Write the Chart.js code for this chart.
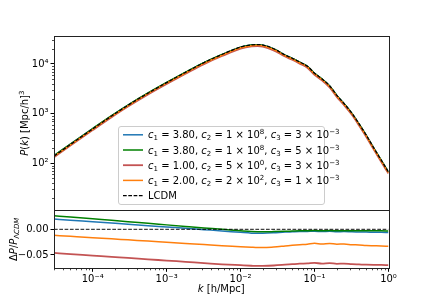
<!DOCTYPE html>
<html>
<head>
<meta charset="utf-8">
<script src="https://cdn.jsdelivr.net/npm/chart.js@4.4.1/dist/chart.umd.min.js"></script>
<style>
  html, body { margin: 0; padding: 0; background: #fff; }
  #wrap { width: 432px; height: 302px; }
</style>
</head>
<body>
<div id="wrap"><canvas id="pkChart"></canvas></div>
<script>
// wavenumbers k [h/Mpc]
const kValues = [3e-5, 5e-5, 1e-4, 1.8e-4, 3e-4, 5.6e-4, 1e-3, 1.8e-3, 3.2e-3, 5.6e-3,
  0.01, 0.014, 0.017, 0.02, 0.028, 0.04, 0.05, 0.063, 0.08, 0.1,
  0.126, 0.16, 0.2, 0.25, 0.32, 0.4, 0.5, 0.63, 0.8, 1.0];

// LCDM power spectrum P(k) [Mpc/h]^3
const pLcdm = [140, 240, 493, 897, 1472, 2582, 4207, 6776, 10620, 15490,
  21880, 24210, 24550, 23990, 20230, 15140, 13000, 10900, 9000, 6500,
  5010, 3610, 2340, 1600, 1020, 622, 369, 206, 115, 67];

// relative difference dP/P_LCDM of each model
const ratioBlue = [0.020, 0.0177, 0.0147, 0.0121, 0.0098, 0.0071, 0.0045, 0.0019, -0.0007, -0.0032,
  -0.006, -0.0075, -0.0078, -0.0077, -0.0068, -0.0055, -0.005, -0.0045, -0.0042, -0.0038,
  -0.0045, -0.004, -0.0048, -0.0045, -0.005, -0.0052, -0.0055, -0.0057, -0.006, -0.0063];
const ratioGreen = [0.0265, 0.0239, 0.0203, 0.0174, 0.0147, 0.0116, 0.0086, 0.0056, 0.0027, 0.0,
  -0.003, -0.0045, -0.0048, -0.0048, -0.0045, -0.004, -0.0035, -0.003, -0.0027, -0.0025,
  -0.003, -0.0025, -0.003, -0.0028, -0.003, -0.0028, -0.003, -0.003, -0.003, -0.0033];
const ratioRed = [-0.0461, -0.0483, -0.0512, -0.0537, -0.0558, -0.0585, -0.0609, -0.0634, -0.0658, -0.0682,
  -0.070, -0.071, -0.0714, -0.0713, -0.0705, -0.069, -0.068, -0.067, -0.0665, -0.0655,
  -0.0668, -0.066, -0.0672, -0.0668, -0.068, -0.0685, -0.069, -0.0693, -0.0695, -0.0697];
const ratioOrange = [-0.0117, -0.0137, -0.0164, -0.0186, -0.0206, -0.023, -0.0253, -0.0276, -0.0298, -0.032,
  -0.0338, -0.035, -0.0356, -0.0357, -0.0345, -0.0325, -0.0312, -0.030, -0.029, -0.0272,
  -0.0288, -0.0278, -0.029, -0.0288, -0.030, -0.0305, -0.0315, -0.032, -0.0325, -0.0331];
const ratioLcdm = kValues.map(() => 0);

// legend parameters
const legendC1 = ['3.80', '3.80', '1.00', '2.00'];
const legendC2 = [['1', '8'], ['1', '8'], ['5', '0'], ['2', '2']];
const legendC3 = [['3', '−3'], ['5', '−3'], ['3', '−3'], ['1', '−3']];

// ticks
const xTickValues = [1e-4, 1e-3, 1e-2, 1e-1, 1];
const xTickLabels = ['10⁻⁴', '10⁻³', '10⁻²', '10⁻¹', '10⁰'];
const pTickValues = [100, 1000, 10000];
const pTickLabels = ['10²', '10³', '10⁴'];
const rTickValues = [-0.05, 0];
const rTickLabels = ['−0.05', '0.00'];

const FONT = 'DejaVu Sans';
const colors = ['#1f77b4', '#008000', 'rgba(178,34,34,0.78)', '#ff7f0e'];
const widths = [1.5, 1.5, 1.8, 1.5];
const ratios = [ratioBlue, ratioGreen, ratioRed, ratioOrange];

const pts = (arr) => kValues.map((k, i) => ({ x: k, y: arr[i] }));
const model = (r) => pLcdm.map((p, i) => p * (1 + r[i]));

const datasets = [];
ratios.forEach((r, i) => {
    datasets.push({ data: pts(model(r)), yAxisID: 'yp', borderColor: colors[i], borderWidth: widths[i], order: 20 - i });
});
datasets.push({ data: pts(pLcdm), yAxisID: 'yp', borderColor: '#000', borderWidth: 1.3, borderDash: [3.7, 1.6], order: 10 });
ratios.forEach((r, i) => {
    datasets.push({ data: pts(r), yAxisID: 'yr', borderColor: colors[i], borderWidth: widths[i], order: 9 - i });
});
datasets.push({ data: pts(ratioLcdm), yAxisID: 'yr', borderColor: 'rgba(0,0,0,0.75)', borderWidth: 1.3, borderDash: [3.7, 1.6], order: 0 });

function drawRich(ctx, parts, x, y, align) {
    let w = 0;
    parts.forEach(p => { ctx.font = p[1]; w += ctx.measureText(p[0]).width; });
    let cx = align === 'center' ? x - w / 2 : x;
    parts.forEach(p => {
        ctx.font = p[1];
        ctx.fillText(p[0], cx, y + (p[2] || 0));
        cx += ctx.measureText(p[0]).width;
    });
}

const decor = {
    id: 'decor',
    afterDraw(chart) {
        const ctx = chart.ctx;
        const a = chart.chartArea;
        const xs = chart.scales.x, yp = chart.scales.yp, yr = chart.scales.yr;
        ctx.save();

        // minor ticks on log axes
        ctx.strokeStyle = '#000';
        ctx.lineWidth = 0.7;
        ctx.beginPath();
        for (let d = 1e-5; d < 1; d *= 10) {
            for (let m = 2; m <= 9; m++) {
                const v = d * m;
                if (v < xs.min || v > xs.max) continue;
                const px = Math.round(xs.getPixelForValue(v)) + 0.5;
                ctx.moveTo(px, a.bottom); ctx.lineTo(px, a.bottom + 2);
            }
        }
        for (let d = 10; d < 1e5; d *= 10) {
            for (let m = 2; m <= 9; m++) {
                const v = d * m;
                if (v < yp.min || v > yp.max) continue;
                const py = Math.round(yp.getPixelForValue(v)) + 0.5;
                ctx.moveTo(a.left, py); ctx.lineTo(a.left - 2, py);
            }
        }
        ctx.stroke();

        // panel frames
        ctx.strokeStyle = '#222';
        ctx.lineWidth = 1;
        ctx.strokeRect(Math.round(a.left) + 0.5, Math.round(yp.top) + 0.5, Math.round(a.right - a.left), Math.round(yp.bottom - yp.top));
        ctx.strokeRect(Math.round(a.left) + 0.5, Math.round(yr.top) + 0.5, Math.round(a.right - a.left), Math.round(yr.bottom - yr.top));

        // axis titles
        ctx.fillStyle = '#000';
        ctx.textBaseline = 'alphabetic';
        const N = '10px ' + FONT, I = 'italic 10px ' + FONT, S = '7px ' + FONT, SI = 'italic 7px ' + FONT;
        drawRich(ctx, [['k', I], [' [h/Mpc]', N]], (a.left + a.right) / 2, 292, 'center');

        ctx.save();
        ctx.translate(28, (yp.top + yp.bottom) / 2);
        ctx.rotate(-Math.PI / 2);
        drawRich(ctx, [['P', I], ['(', N], ['k', I], [')', N], [' [Mpc/h]', N], ['3', S, -4]], 0, 0, 'center');
        ctx.restore();

        ctx.save();
        ctx.translate(17, (yr.top + yr.bottom) / 2);
        ctx.rotate(-Math.PI / 2);
        drawRich(ctx, [['Δ', N], ['P', I], ['/', N], ['P', I], ['Λ', S, 2], ['CDM', SI, 2]], 0, 0, 'center');
        ctx.restore();

        // legend
        const lx = 118.5, ly = 126.5, lw = 206, lh = 78;
        ctx.beginPath();
        ctx.roundRect(lx, ly, lw, lh, 2.5);
        ctx.fillStyle = 'rgba(255,255,255,0.8)';
        ctx.fill();
        ctx.strokeStyle = '#cccccc';
        ctx.lineWidth = 1;
        ctx.stroke();
        for (let i = 0; i < 5; i++) {
            const ry = 134.8 + i * 15.2;
            ctx.beginPath();
            ctx.moveTo(123, ry); ctx.lineTo(143, ry);
            if (i < 4) {
                ctx.strokeStyle = colors[i]; ctx.lineWidth = widths[i]; ctx.setLineDash([]);
            } else {
                ctx.strokeStyle = '#000'; ctx.lineWidth = 1.3; ctx.setLineDash([3.7, 1.6]);
            }
            ctx.stroke();
            ctx.setLineDash([]);
            ctx.fillStyle = '#000';
            if (i < 4) {
                drawRich(ctx, [
                    ['c', I], ['1', S, 2], [' = ' + legendC1[i] + ', ', N],
                    ['c', I], ['2', S, 2], [' = ' + legendC2[i][0] + ' × 10', N], [legendC2[i][1], S, -4], [', ', N],
                    ['c', I], ['3', S, 2], [' = ' + legendC3[i][0] + ' × 10', N], [legendC3[i][1], S, -4]
                ], 148, ry + 3.5);
            } else {
                drawRich(ctx, [['LCDM', N]], 148, ry + 3.5);
            }
        }
        ctx.restore();
    }
};

const tickFont = { family: FONT, size: 10 };
const ctx = document.getElementById('pkChart').getContext('2d');
new Chart(ctx, {
    type: 'line',
    data: { datasets: datasets },
    options: {
        responsive: true,
        maintainAspectRatio: false,
        animation: false,
        layout: { padding: { top: 36, right: 43.5, bottom: 0, left: 0 } },
        elements: {
            point: { radius: 0 },
            line: { cubicInterpolationMode: 'monotone', fill: false, borderJoinStyle: 'round' }
        },
        plugins: { legend: { display: false }, tooltip: { enabled: false } },
        scales: {
            x: {
                type: 'logarithmic', min: 3e-5, max: 1,
                afterBuildTicks: s => { s.ticks = xTickValues.map(v => ({ value: v })); },
                ticks: { callback: (v, i) => xTickLabels[i], font: tickFont, color: '#000', padding: 1.5, maxRotation: 0, autoSkip: false },
                grid: { drawOnChartArea: false, tickLength: 3.5, color: '#000' },
                border: { display: false },
                afterFit: s => { s.height = 33.7; }
            },
            yr: {
                type: 'linear', position: 'left', stack: 'panels', stackWeight: 58,
                min: -0.076, max: 0.037,
                afterBuildTicks: s => { s.ticks = rTickValues.map(v => ({ value: v })); },
                ticks: { callback: (v, i) => rTickLabels[i], font: tickFont, color: '#000', padding: 2 },
                grid: { drawOnChartArea: false, tickLength: 3.5, color: '#000' },
                border: { display: false },
                afterFit: s => { s.width = 54; }
            },
            yp: {
                type: 'logarithmic', position: 'left', stack: 'panels', stackWeight: 174.3,
                min: 11.4, max: 36500,
                afterBuildTicks: s => { s.ticks = pTickValues.map(v => ({ value: v })); },
                ticks: { callback: (v, i) => pTickLabels[i], font: tickFont, color: '#000', padding: 2 },
                grid: { drawOnChartArea: false, tickLength: 3.5, color: '#000' },
                border: { display: false },
                afterFit: s => { s.width = 54; }
            }
        }
    },
    plugins: [decor]
});
</script>
</body>
</html>
